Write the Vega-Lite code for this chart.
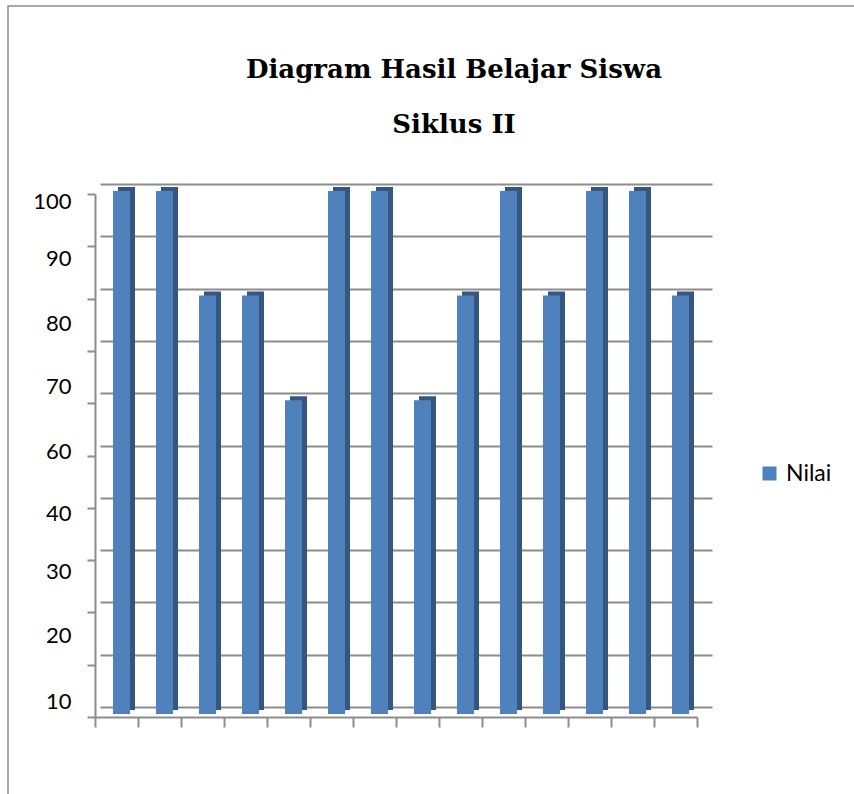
{
  "$schema": "https://vega.github.io/schema/vega-lite/v6.json",
  "width": 850,
  "height": 790,
  "autosize": {"type": "none"},
  "padding": {"left": 8, "top": 6, "right": 0, "bottom": 0},
  "background": "white",
  "title": {
    "text": ["Diagram Hasil Belajar Siswa", "Siklus II"],
    "font": "DejaVu Serif",
    "fontSize": 26,
    "fontWeight": "bold",
    "color": "#000000",
    "anchor": "middle",
    "frame": "group",
    "baseline": "alphabetic",
    "lineHeight": 55,
    "offset": -153,
    "dx": 21
  },
  "config": {
    "view": {"stroke": "#8C8C8C", "strokeWidth": 1.5},
    "axis": {"labelFont": "Lato", "labelFontSize": 22, "labelColor": "#000000"}
  },
  "data": {
    "values": [
      {"Siswa": 1, "Nilai": 100},
      {"Siswa": 2, "Nilai": 100},
      {"Siswa": 3, "Nilai": 80},
      {"Siswa": 4, "Nilai": 80},
      {"Siswa": 5, "Nilai": 60},
      {"Siswa": 6, "Nilai": 100},
      {"Siswa": 7, "Nilai": 100},
      {"Siswa": 8, "Nilai": 60},
      {"Siswa": 9, "Nilai": 80},
      {"Siswa": 10, "Nilai": 100},
      {"Siswa": 11, "Nilai": 80},
      {"Siswa": 12, "Nilai": 100},
      {"Siswa": 13, "Nilai": 100},
      {"Siswa": 14, "Nilai": 80}
    ]
  },
  "layer": [
    {
      "mark": {"type": "bar", "opacity": 0},
      "encoding": {
        "x": {"field": "Siswa", "type": "ordinal", "scale": {"range": [92, 704], "paddingInner": 0, "paddingOuter": 0}, "axis": null},
        "y": {
          "field": "Nilai", "type": "quantitative",
          "scale": {"domain": [0, 100], "range": [701, 178], "nice": false},
          "axis": {"orient": "left", "grid": true, "gridColor": "#8C8C8C", "gridWidth": 2, "gridOpacity": 1, "domain": false, "ticks": false, "labels": false, "tickCount": 10, "title": null}
        }
      }
    },
    {
      "mark": {"type": "bar", "color": "#35567F", "width": 17, "xOffset": 10, "yOffset": -7, "y2Offset": -7},
      "encoding": {
        "x": {
          "field": "Siswa", "type": "ordinal",
          "scale": {"range": [87, 689], "paddingInner": 0, "paddingOuter": 0},
          "axis": {"orient": "bottom", "offset": -79, "labels": false, "tickBand": "extent", "tickSize": 10, "tickColor": "#8C8C8C", "tickWidth": 2, "domainColor": "#8C8C8C", "domainWidth": 2, "grid": false, "title": null}
        },
        "y": {
          "field": "Nilai", "type": "quantitative",
          "scale": {"domain": [0, 100], "range": [711, 188], "nice": false},
          "axis": {
            "orient": "left", "offset": -87, "grid": false, "tickCount": 10, "tickSize": 8,
            "tickColor": "#8C8C8C", "tickWidth": 2, "domainColor": "#8C8C8C", "domainWidth": 2,
            "labelPadding": 16, "title": null,
            "labelExpr": "datum.value == 60 || datum.value == 10 ? '' : datum.value == 50 ? '60' : datum.value == 0 ? '10' : datum.label",
            "labelOffset": {
              "condition": [
                {"test": "datum.value == 100", "value": 7},
                {"test": "datum.value == 90", "value": 12},
                {"test": "datum.value == 80", "value": 25},
                {"test": "datum.value == 70", "value": 36},
                {"test": "datum.value == 50", "value": -4},
                {"test": "datum.value == 40", "value": 6},
                {"test": "datum.value == 30", "value": 11},
                {"test": "datum.value == 20", "value": 23},
                {"test": "datum.value == 0", "value": -16}
              ],
              "value": 0
            }
          }
        }
      }
    },
    {
      "mark": {"type": "bar", "width": 17, "xOffset": 5, "yOffset": -3, "y2Offset": -3},
      "encoding": {
        "x": {"field": "Siswa", "type": "ordinal", "scale": {"range": [87, 689], "paddingInner": 0, "paddingOuter": 0}, "axis": null},
        "y": {"field": "Nilai", "type": "quantitative", "scale": {"domain": [0, 100], "range": [711, 188], "nice": false}, "axis": null},
        "color": {
          "datum": "Nilai", "type": "nominal",
          "scale": {"range": ["#4F81BD"]},
          "legend": {"orient": "none", "legendX": 750, "legendY": 456, "title": null, "symbolType": "square", "symbolSize": 196, "symbolStrokeWidth": 0, "labelFont": "Lato", "labelFontSize": 23, "labelColor": "#000000", "labelOffset": 5, "padding": 0}
        }
      }
    }
  ],
  "resolve": {"scale": {"x": "independent", "y": "independent"}}
}
